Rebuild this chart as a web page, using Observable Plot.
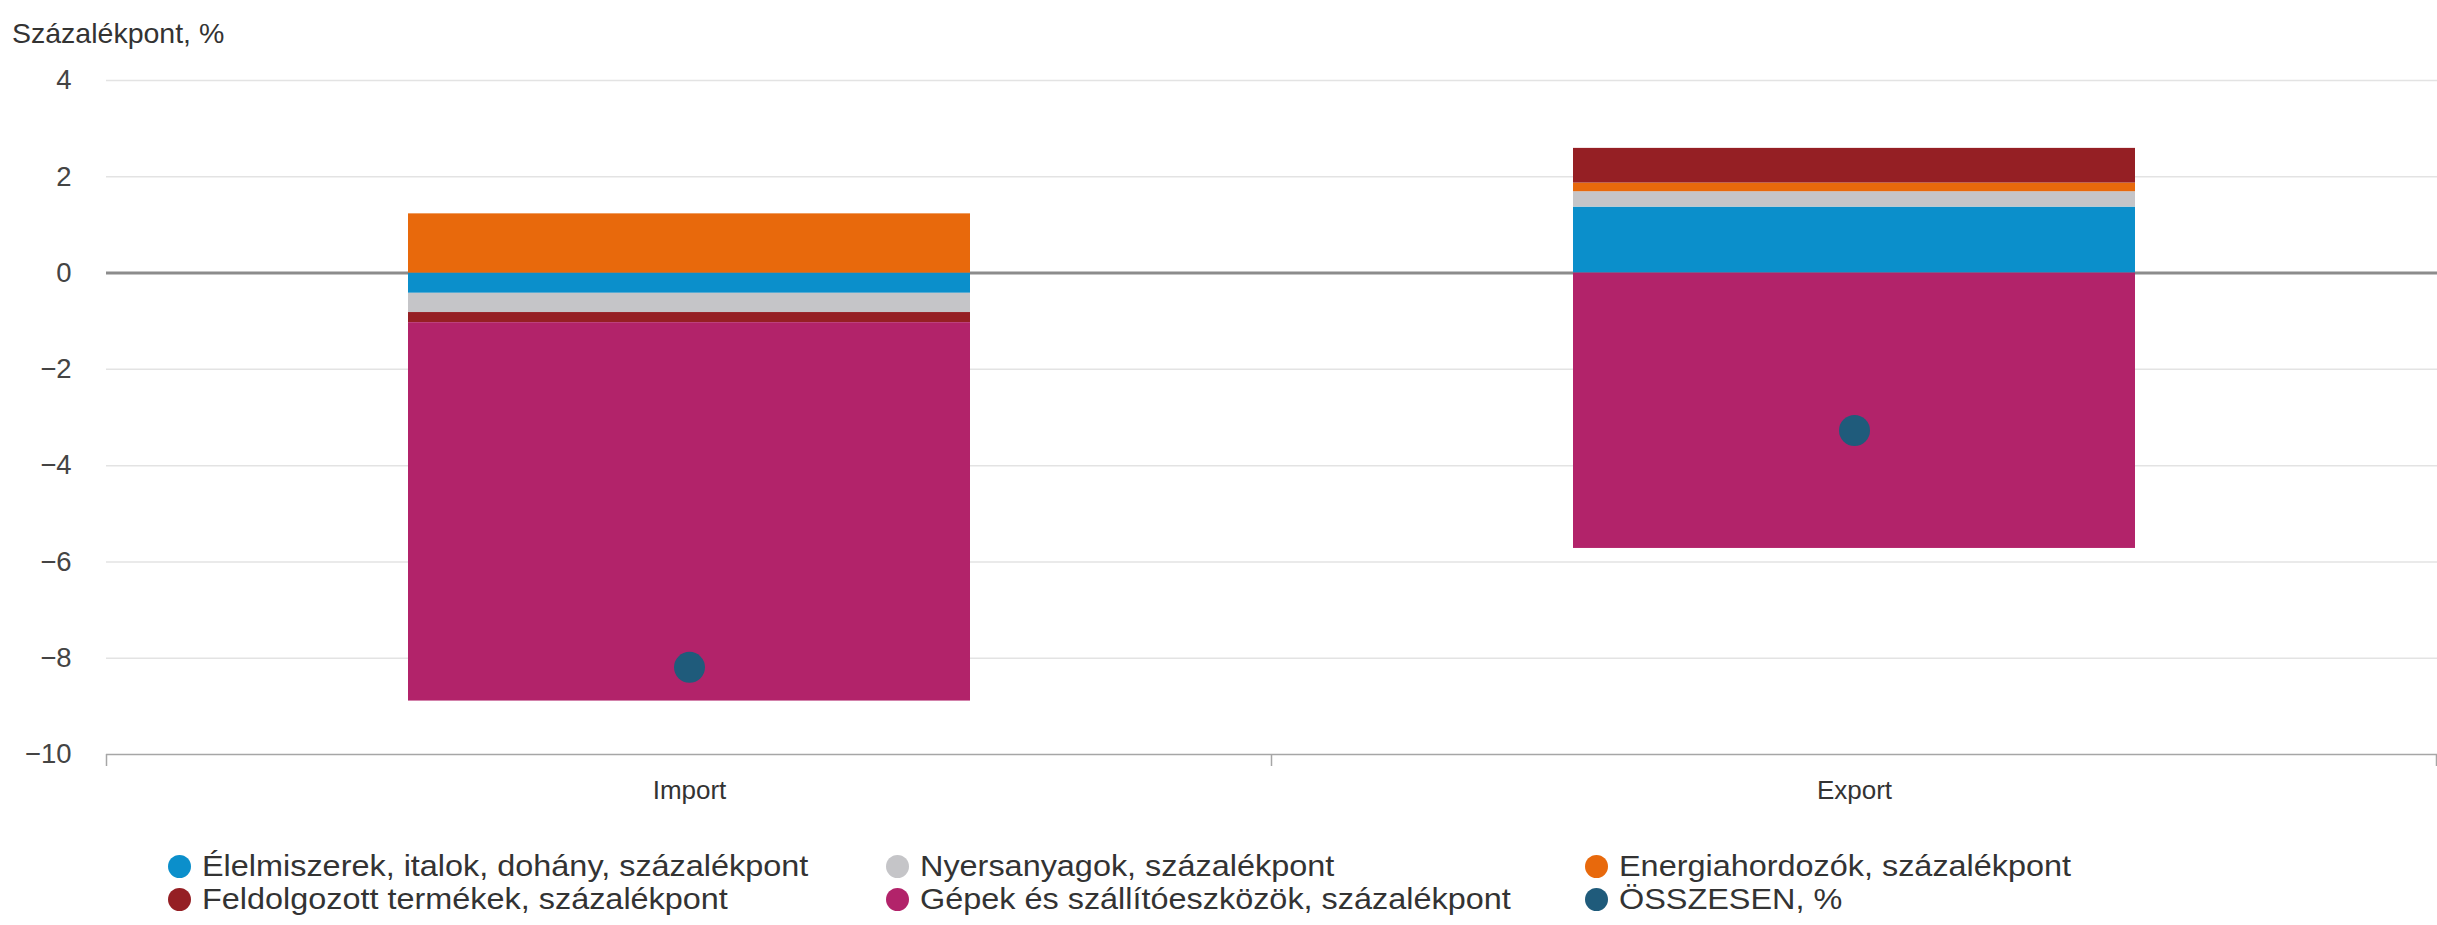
<!DOCTYPE html>
<html>
<head>
<meta charset="utf-8">
<script src="https://cdn.jsdelivr.net/npm/d3@7"></script>
<script src="https://cdn.jsdelivr.net/npm/@observablehq/plot@0.6"></script>
<style>
  html, body { margin: 0; padding: 0; background: #fff; }
  body { width: 2437px; height: 925px; position: relative; overflow: hidden;
         font-family: "Liberation Sans", Arial, sans-serif; color: #333; }
  .stretch { display: inline-block; white-space: nowrap; transform-origin: left center; }
  #title { position: absolute; left: 12px; top: 17px; font-size: 28.5px; line-height: 32px; color: #333; white-space: nowrap; }
  #chart { position: absolute; left: 0; top: 50px; }
  #legend { position: absolute; left: 0; top: 820px; width: 2437px; height: 105px; }
  .item { position: absolute; height: 34px; display: flex; align-items: center; font-size: 30px; color: #333; }
  .sw { width: 23px; height: 23px; border-radius: 50%; flex: none; position: absolute; }
</style>
</head>
<body>
<div id="title">Százalékpont, %</div>
<div id="chart"></div>
<div id="legend"></div>
<script>
// ---- data ----
const categories = ["Import", "Export"];
const seriesNames = [
  "Élelmiszerek, italok, dohány, százalékpont",
  "Nyersanyagok, százalékpont",
  "Energiahordozók, százalékpont",
  "Feldolgozott termékek, százalékpont",
  "Gépek és szállítóeszközök, százalékpont"
];
const totalName = "ÖSSZESEN, %";
const elelmiszer   = [-0.42, 1.37];
const nyersanyag   = [-0.40, 0.32];
const energia      = [ 1.23, 0.18];
const feldolgozott = [-0.21, 0.72];
const gepek        = [-7.86, -5.72];
const osszesen     = [-8.19, -3.27];
const yTicks = [4, 2, 0, -2, -4, -6, -8, -10];
const seriesColors = ["#0b8fcb", "#c5c5c8", "#e8690c", "#951f24", "#b2236a"];
const totalColor = "#1f5b7b";

// ---- build tables ----
const seriesValues = [elelmiszer, nyersanyag, energia, feldolgozott, gepek];
const rows = [];
categories.forEach((c, i) => {
  seriesNames.forEach((s, j) => rows.push({cat: c, series: s, value: seriesValues[j][i]}));
});
const totals = categories.map((c, i) => ({cat: c, value: osszesen[i]}));

const LEGEND_STRETCH = 1.08;
const axisColor = "#a6a6a6";

const boundaryTicks = (index, scales) => {
  const x = scales.x, y = scales.y;
  const bw = typeof x.bandwidth === "function" ? x.bandwidth() : (x.bandwidth || 0);
  const xs = categories.map(c => x(c));
  const step = xs[1] - xs[0];
  const bounds = [xs[0] + bw / 2 - step / 2, ...xs.map(v => v + bw / 2 + step / 2)];
  const y0 = y(yTicks[yTicks.length - 1]);
  const g = d3.create("svg:g");
  g.selectAll("line").data(bounds).join("line")
    .attr("x1", d => d).attr("x2", d => d)
    .attr("y1", y0).attr("y2", y0 + 12)
    .attr("stroke", axisColor).attr("stroke-width", 1.5);
  return g.node();
};

const svg = Plot.plot({
  width: 2437,
  height: 770,
  marginTop: 30,
  marginBottom: 66,
  marginLeft: 106,
  marginRight: 0,
  style: {fontFamily: "'Liberation Sans', Arial, sans-serif", fontSize: "27px", color: "#333", background: "transparent", overflow: "visible"},
  x: {domain: categories, paddingInner: 0.518, paddingOuter: 0.259, label: null},
  y: {domain: [-10, 4], label: null},
  color: {domain: seriesNames, range: seriesColors},
  marks: [
    Plot.ruleY(yTicks.filter(t => t !== 0 && t !== -10), {stroke: "#e3e3e3", strokeWidth: 1.5}),
    Plot.ruleY([0], {stroke: "#8c8c8c", strokeWidth: 3}),
    Plot.barY(rows, Plot.stackY({x: "cat", y: "value", fill: "series"})),
    Plot.ruleY([-10], {stroke: axisColor, strokeWidth: 1.5}),
    boundaryTicks,
    Plot.dot(totals, {x: "cat", y: "value", r: 15.5, fill: totalColor}),
    Plot.axisY({ticks: yTicks, tickSize: 0, tickPadding: 35, fontSize: 27.5, fill: "#444"}),
    Plot.axisX({tickSize: 0, tickPadding: 26, fontSize: 26, fill: "#333"})
  ]
});
document.getElementById("chart").appendChild(svg);

// ---- legend ----
const legendItems = [
  {name: seriesNames[0], color: seriesColors[0]},
  {name: seriesNames[1], color: seriesColors[1]},
  {name: seriesNames[2], color: seriesColors[2]},
  {name: seriesNames[3], color: seriesColors[3]},
  {name: seriesNames[4], color: seriesColors[4]},
  {name: totalName, color: totalColor}
];
const colText = [202, 920, 1619];
const rowCenter = [46, 79];
const legend = document.getElementById("legend");
legendItems.forEach((it, i) => {
  const col = i % 3, row = Math.floor(i / 3);
  const div = document.createElement("div");
  div.className = "item";
  div.style.left = colText[col] + "px";
  div.style.top = (rowCenter[row] - 17) + "px";
  const sw = document.createElement("span");
  sw.className = "sw";
  sw.style.background = it.color;
  sw.style.left = "-34px";
  sw.style.top = "5.5px";
  const tx = document.createElement("span");
  tx.className = "stretch";
  tx.style.transform = `scaleX(${LEGEND_STRETCH})`;
  tx.textContent = it.name;
  div.appendChild(sw);
  div.appendChild(tx);
  legend.appendChild(div);
});
</script>
</body>
</html>
